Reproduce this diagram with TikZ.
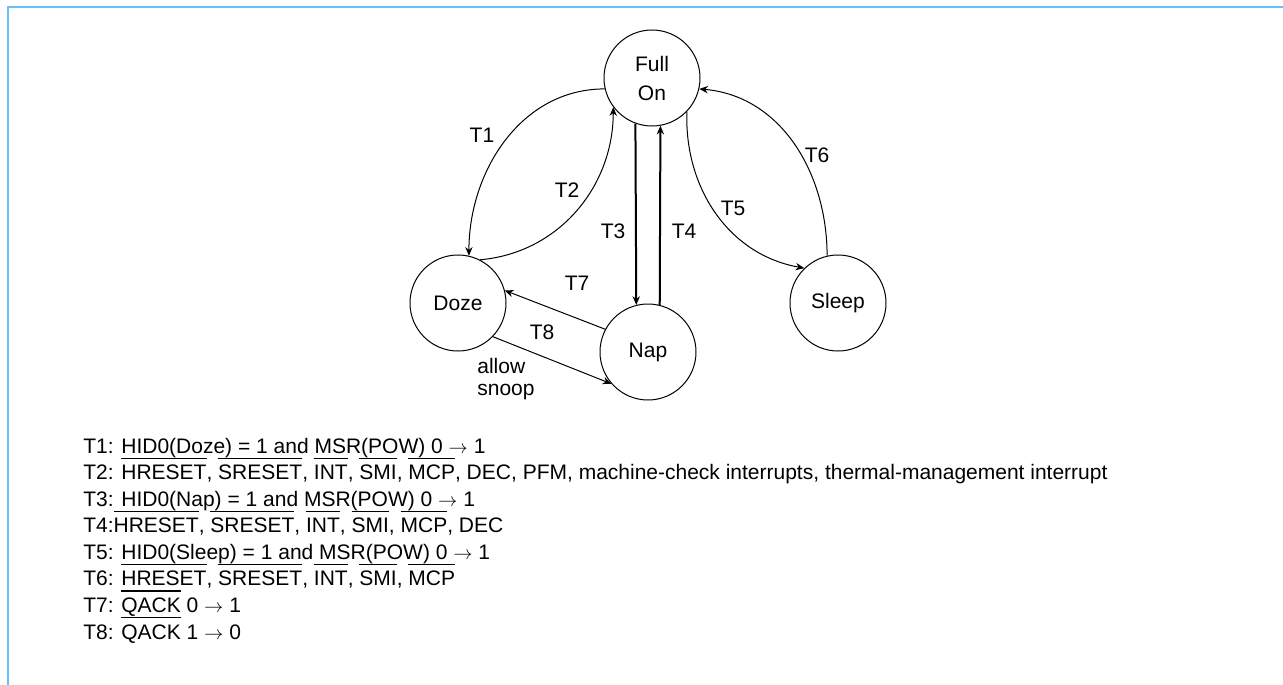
\documentclass[tikz,border=0pt]{standalone}
\usepackage{fontspec}
\setmainfont{Liberation Sans}
\usetikzlibrary{arrows.meta}
\definecolor{frameblue}{RGB}{102,192,250}

% overline drawn well above the capitals, as in the figure
\newsavebox\ovlbox
\newcommand\ovl[1]{\sbox\ovlbox{#1}\rlap{\smash{\rule[15.4pt]{\wd\ovlbox}{1.1pt}}}\usebox\ovlbox}

\begin{document}
\begin{tikzpicture}[x=0.75pt,y=-0.75pt,
    every node/.style={font=\fontsize{15.75}{21.75}\selectfont},
    state/.style={draw,circle,minimum size=72pt,inner sep=0pt,line width=0.75pt},
    trans/.style={-{Stealth[length=6.5pt,width=5.5pt]},line width=0.75pt},
    key/.style={anchor=base west,inner sep=0pt}]
\useasboundingbox (0,0) rectangle (1283,685);
\draw[frameblue,line width=1.3pt] (8,685) -- (8,7) -- (1283,7);

% states
\node[state,align=center] (fon) at (652,78) {Full\\On};
\node[state] (doze) at (458,303) {Doze};
\node[state] (nap) at (648,352) {Nap};
\node[state] (sleep) at (838,303) {Sleep};

% transitions
\draw[trans] (fon.193) to[out=180,in=90] (doze.77);
\draw[trans] (doze.63) to[out=5,in=-90] (fon.217);
\draw[trans,line width=1.5pt] (fon.250) -- (nap.104);
\draw[trans,line width=1.5pt] (nap.76) -- (fon.280);
\draw[trans] (fon.316) to[out=-92,in=170] (sleep.134);
\draw[trans] (sleep.103) to[out=90,in=-5] (fon.347);
\draw[trans] (nap.152) -- (doze.15);
\draw[trans] (doze.316) -- (nap.221);

\node (t1) at (482,135) {T1};
\node (t2) at (567,190) {T2};
\node (t3) at (613,231) {T3};
\node (t4) at (684,231) {T4};
\node (t5) at (733,208) {T5};
\node (t6) at (817,155) {T6};
\node (t7) at (577,283) {T7};
\node (t8) at (542,332) {T8};
\node[align=left,font=\fontsize{15.75}{16.5}\selectfont] (snoop) at (506,379) {allow\\snoop};

% conditions
\node[key] (k1) at (83,453) {T1: HID0(Doze) = 1 and MSR(POW) 0 $\rightarrow$ 1};
\node[key] (k2) at (83,479.6) {T2: \ovl{HRESET}, \ovl{SRESET}, \ovl{INT}, \ovl{SMI}, \ovl{MCP}, DEC, PFM, machine-check interrupts, thermal-management interrupt};
\node[key] (k3) at (83,506.1) {T3: HID0(Nap) = 1 and MSR(POW) 0 $\rightarrow$ 1};
\node[key] (k4) at (83,532.7) {T4:\ovl{HRESET}, \ovl{SRESET}, \ovl{INT}, \ovl{SMI}, \ovl{MCP}, DEC};
\node[key] (k5) at (83,559.3) {T5: HID0(Sleep) = 1 and MSR(POW) 0 $\rightarrow$ 1};
\node[key] (k6) at (83,585.9) {T6: \ovl{HRESET}, \ovl{SRESET}, \ovl{INT}, \ovl{SMI}, \ovl{MCP}};
\node[key] (k7) at (83,612.4) {T7: \ovl{QACK} 0 $\rightarrow$ 1};
\node[key] (k8) at (83,639) {T8: \ovl{QACK} 1 $\rightarrow$ 0};
\end{tikzpicture}
\end{document}
